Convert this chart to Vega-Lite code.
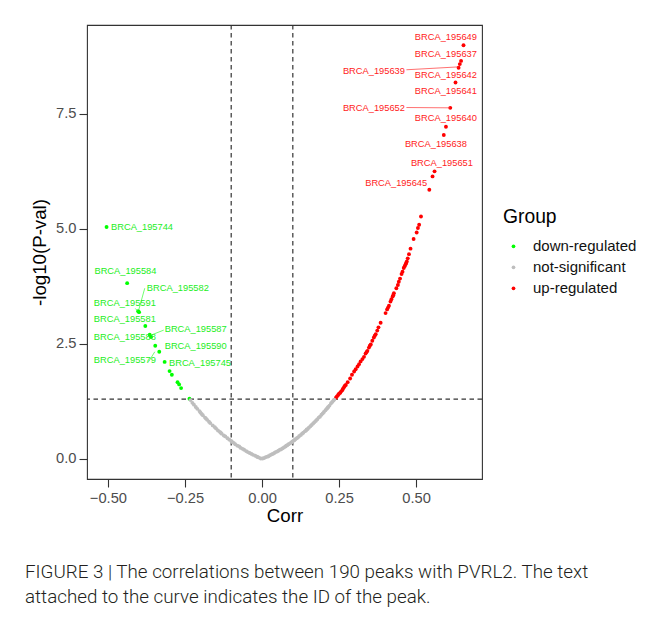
{
  "$schema": "https://vega.github.io/schema/vega-lite/v6.json",
  "width": 395,
  "height": 454,
  "autosize": {"type": "none"},
  "padding": {"left": 87, "top": 25, "right": 175, "bottom": 139},
  "background": "white",
  "title": {
    "text": ["FIGURE 3 | The correlations between 190 peaks with PVRL2. The text", "attached to the curve indicates the ID of the peak."],
    "orient": "bottom", "anchor": "start", "frame": "group",
    "font": "Roboto", "fontSize": 18.8, "fontWeight": 300, "color": "#231f20",
    "lineHeight": 24.5, "offset": 38, "dx": -62, "baseline": "top"
  },
  "datasets": {
    "vl": [{"v": -0.1}, {"v": 0.1}],
    "hl": [{"h": 1.30103}],
    "pts": [
      {"Corr": 0.654, "P": 8.99, "Group": "up-regulated"},
      {"Corr": 0.646, "P": 8.65, "Group": "up-regulated"},
      {"Corr": 0.642, "P": 8.58, "Group": "up-regulated"},
      {"Corr": 0.638, "P": 8.50, "Group": "up-regulated"},
      {"Corr": 0.628, "P": 8.18, "Group": "up-regulated"},
      {"Corr": 0.611, "P": 7.63, "Group": "up-regulated"},
      {"Corr": 0.597, "P": 7.22, "Group": "up-regulated"},
      {"Corr": 0.590, "P": 7.04, "Group": "up-regulated"},
      {"Corr": 0.560, "P": 6.25, "Group": "up-regulated"},
      {"Corr": 0.5535, "P": 6.14, "Group": "up-regulated"},
      {"Corr": 0.543, "P": 5.85, "Group": "up-regulated"},
      {"Corr": 0.516, "P": 5.27, "Group": "up-regulated"},
      {"Corr": 0.510, "P": 5.09, "Group": "up-regulated"},
      {"Corr": 0.506, "P": 5.02, "Group": "up-regulated"},
      {"Corr": 0.502, "P": 4.92, "Group": "up-regulated"},
      {"Corr": 0.492, "P": 4.78, "Group": "up-regulated"},
      {"Corr": 0.482, "P": 4.57, "Group": "up-regulated"},
      {"Corr": 0.477, "P": 4.45, "Group": "up-regulated"},
      {"Corr": 0.473, "P": 4.36, "Group": "up-regulated"},
      {"Corr": 0.470, "P": 4.29, "Group": "up-regulated"},
      {"Corr": 0.468, "P": 4.26, "Group": "up-regulated"},
      {"Corr": 0.466, "P": 4.23, "Group": "up-regulated"},
      {"Corr": 0.463, "P": 4.19, "Group": "up-regulated"},
      {"Corr": 0.460, "P": 4.15, "Group": "up-regulated"},
      {"Corr": 0.456, "P": 4.07, "Group": "up-regulated"},
      {"Corr": 0.453, "P": 4.02, "Group": "up-regulated"},
      {"Corr": 0.448, "P": 3.92, "Group": "up-regulated"},
      {"Corr": 0.444, "P": 3.85, "Group": "up-regulated"},
      {"Corr": 0.441, "P": 3.78, "Group": "up-regulated"},
      {"Corr": 0.436, "P": 3.71, "Group": "up-regulated"},
      {"Corr": 0.428, "P": 3.60, "Group": "up-regulated"},
      {"Corr": 0.426, "P": 3.56, "Group": "up-regulated"},
      {"Corr": 0.424, "P": 3.53, "Group": "up-regulated"},
      {"Corr": 0.420, "P": 3.47, "Group": "up-regulated"},
      {"Corr": 0.417, "P": 3.42, "Group": "up-regulated"},
      {"Corr": 0.412, "P": 3.33, "Group": "up-regulated"},
      {"Corr": 0.409, "P": 3.29, "Group": "up-regulated"},
      {"Corr": 0.406, "P": 3.25, "Group": "up-regulated"},
      {"Corr": 0.401, "P": 3.17, "Group": "up-regulated"},
      {"Corr": 0.385, "P": 2.96, "Group": "up-regulated"},
      {"Corr": 0.378, "P": 2.86, "Group": "up-regulated"},
      {"Corr": 0.374, "P": 2.79, "Group": "up-regulated"},
      {"Corr": 0.369, "P": 2.71, "Group": "up-regulated"},
      {"Corr": 0.366, "P": 2.68, "Group": "up-regulated"},
      {"Corr": 0.363, "P": 2.64, "Group": "up-regulated"},
      {"Corr": 0.358, "P": 2.57, "Group": "up-regulated"},
      {"Corr": 0.353, "P": 2.49, "Group": "up-regulated"},
      {"Corr": 0.350, "P": 2.46, "Group": "up-regulated"},
      {"Corr": 0.347, "P": 2.42, "Group": "up-regulated"},
      {"Corr": 0.342, "P": 2.35, "Group": "up-regulated"},
      {"Corr": 0.339, "P": 2.32, "Group": "up-regulated"},
      {"Corr": 0.336, "P": 2.29, "Group": "up-regulated"},
      {"Corr": 0.331, "P": 2.22, "Group": "up-regulated"},
      {"Corr": 0.326, "P": 2.17, "Group": "up-regulated"},
      {"Corr": 0.320, "P": 2.12, "Group": "up-regulated"},
      {"Corr": 0.315, "P": 2.06, "Group": "up-regulated"},
      {"Corr": 0.310, "P": 2.01, "Group": "up-regulated"},
      {"Corr": 0.304, "P": 1.95, "Group": "up-regulated"},
      {"Corr": 0.299, "P": 1.90, "Group": "up-regulated"},
      {"Corr": 0.292, "P": 1.83, "Group": "up-regulated"},
      {"Corr": 0.286, "P": 1.75, "Group": "up-regulated"},
      {"Corr": 0.278, "P": 1.67, "Group": "up-regulated"},
      {"Corr": 0.272, "P": 1.61, "Group": "up-regulated"},
      {"Corr": 0.269, "P": 1.59, "Group": "up-regulated"},
      {"Corr": 0.266, "P": 1.56, "Group": "up-regulated"},
      {"Corr": 0.263, "P": 1.53, "Group": "up-regulated"},
      {"Corr": 0.261, "P": 1.50, "Group": "up-regulated"},
      {"Corr": 0.257, "P": 1.47, "Group": "up-regulated"},
      {"Corr": 0.254, "P": 1.44, "Group": "up-regulated"},
      {"Corr": 0.250, "P": 1.42, "Group": "up-regulated"},
      {"Corr": 0.247, "P": 1.39, "Group": "up-regulated"},
      {"Corr": 0.243, "P": 1.36, "Group": "up-regulated"},
      {"Corr": 0.240, "P": 1.33, "Group": "up-regulated"},
      {"Corr": -0.5045, "P": 5.04, "Group": "down-regulated"},
      {"Corr": -0.4377, "P": 3.82, "Group": "down-regulated"},
      {"Corr": -0.402, "P": 3.21, "Group": "down-regulated"},
      {"Corr": -0.399, "P": 3.19, "Group": "down-regulated"},
      {"Corr": -0.3787, "P": 2.89, "Group": "down-regulated"},
      {"Corr": -0.3645, "P": 2.70, "Group": "down-regulated"},
      {"Corr": -0.3603, "P": 2.65, "Group": "down-regulated"},
      {"Corr": -0.3465, "P": 2.46, "Group": "down-regulated"},
      {"Corr": -0.3335, "P": 2.33, "Group": "down-regulated"},
      {"Corr": -0.3161, "P": 2.11, "Group": "down-regulated"},
      {"Corr": -0.300, "P": 1.91, "Group": "down-regulated"},
      {"Corr": -0.2926, "P": 1.83, "Group": "down-regulated"},
      {"Corr": -0.2742, "P": 1.67, "Group": "down-regulated"},
      {"Corr": -0.269, "P": 1.62, "Group": "down-regulated"},
      {"Corr": -0.2626, "P": 1.54, "Group": "down-regulated"},
      {"Corr": -0.2355, "P": 1.31, "Group": "down-regulated"},
      {"Corr": -0.232, "P": 1.28, "Group": "not-significant"},
      {"Corr": -0.226, "P": 1.22, "Group": "not-significant"},
      {"Corr": -0.221, "P": 1.18, "Group": "not-significant"},
      {"Corr": -0.215, "P": 1.13, "Group": "not-significant"},
      {"Corr": -0.210, "P": 1.09, "Group": "not-significant"},
      {"Corr": -0.203, "P": 1.04, "Group": "not-significant"},
      {"Corr": -0.200, "P": 1.01, "Group": "not-significant"},
      {"Corr": -0.196, "P": 0.98, "Group": "not-significant"},
      {"Corr": -0.192, "P": 0.95, "Group": "not-significant"},
      {"Corr": -0.185, "P": 0.90, "Group": "not-significant"},
      {"Corr": -0.182, "P": 0.88, "Group": "not-significant"},
      {"Corr": -0.178, "P": 0.85, "Group": "not-significant"},
      {"Corr": -0.172, "P": 0.81, "Group": "not-significant"},
      {"Corr": -0.168, "P": 0.78, "Group": "not-significant"},
      {"Corr": -0.160, "P": 0.73, "Group": "not-significant"},
      {"Corr": -0.153, "P": 0.69, "Group": "not-significant"},
      {"Corr": -0.149, "P": 0.66, "Group": "not-significant"},
      {"Corr": -0.143, "P": 0.62, "Group": "not-significant"},
      {"Corr": -0.137, "P": 0.59, "Group": "not-significant"},
      {"Corr": -0.134, "P": 0.57, "Group": "not-significant"},
      {"Corr": -0.131, "P": 0.55, "Group": "not-significant"},
      {"Corr": -0.124, "P": 0.51, "Group": "not-significant"},
      {"Corr": -0.119, "P": 0.49, "Group": "not-significant"},
      {"Corr": -0.112, "P": 0.45, "Group": "not-significant"},
      {"Corr": -0.106, "P": 0.42, "Group": "not-significant"},
      {"Corr": -0.100, "P": 0.39, "Group": "not-significant"},
      {"Corr": -0.097, "P": 0.37, "Group": "not-significant"},
      {"Corr": -0.092, "P": 0.35, "Group": "not-significant"},
      {"Corr": -0.087, "P": 0.32, "Group": "not-significant"},
      {"Corr": -0.080, "P": 0.29, "Group": "not-significant"},
      {"Corr": -0.074, "P": 0.27, "Group": "not-significant"},
      {"Corr": -0.069, "P": 0.24, "Group": "not-significant"},
      {"Corr": -0.063, "P": 0.22, "Group": "not-significant"},
      {"Corr": -0.058, "P": 0.20, "Group": "not-significant"},
      {"Corr": -0.051, "P": 0.17, "Group": "not-significant"},
      {"Corr": -0.046, "P": 0.15, "Group": "not-significant"},
      {"Corr": -0.040, "P": 0.13, "Group": "not-significant"},
      {"Corr": -0.034, "P": 0.11, "Group": "not-significant"},
      {"Corr": -0.029, "P": 0.09, "Group": "not-significant"},
      {"Corr": -0.022, "P": 0.07, "Group": "not-significant"},
      {"Corr": -0.016, "P": 0.05, "Group": "not-significant"},
      {"Corr": -0.0135, "P": 0.04, "Group": "not-significant"},
      {"Corr": -0.010, "P": 0.03, "Group": "not-significant"},
      {"Corr": -0.004, "P": 0.01, "Group": "not-significant"},
      {"Corr": 0.002, "P": 0.01, "Group": "not-significant"},
      {"Corr": 0.007, "P": 0.02, "Group": "not-significant"},
      {"Corr": 0.012, "P": 0.04, "Group": "not-significant"},
      {"Corr": 0.017, "P": 0.05, "Group": "not-significant"},
      {"Corr": 0.021, "P": 0.06, "Group": "not-significant"},
      {"Corr": 0.026, "P": 0.08, "Group": "not-significant"},
      {"Corr": 0.031, "P": 0.10, "Group": "not-significant"},
      {"Corr": 0.035, "P": 0.11, "Group": "not-significant"},
      {"Corr": 0.040, "P": 0.13, "Group": "not-significant"},
      {"Corr": 0.044, "P": 0.15, "Group": "not-significant"},
      {"Corr": 0.049, "P": 0.16, "Group": "not-significant"},
      {"Corr": 0.053, "P": 0.18, "Group": "not-significant"},
      {"Corr": 0.058, "P": 0.20, "Group": "not-significant"},
      {"Corr": 0.062, "P": 0.21, "Group": "not-significant"},
      {"Corr": 0.066, "P": 0.23, "Group": "not-significant"},
      {"Corr": 0.071, "P": 0.25, "Group": "not-significant"},
      {"Corr": 0.076, "P": 0.27, "Group": "not-significant"},
      {"Corr": 0.079, "P": 0.29, "Group": "not-significant"},
      {"Corr": 0.082, "P": 0.30, "Group": "not-significant"},
      {"Corr": 0.086, "P": 0.32, "Group": "not-significant"},
      {"Corr": 0.091, "P": 0.34, "Group": "not-significant"},
      {"Corr": 0.095, "P": 0.36, "Group": "not-significant"},
      {"Corr": 0.099, "P": 0.38, "Group": "not-significant"},
      {"Corr": 0.103, "P": 0.40, "Group": "not-significant"},
      {"Corr": 0.1055, "P": 0.41, "Group": "not-significant"},
      {"Corr": 0.108, "P": 0.43, "Group": "not-significant"},
      {"Corr": 0.113, "P": 0.45, "Group": "not-significant"},
      {"Corr": 0.117, "P": 0.47, "Group": "not-significant"},
      {"Corr": 0.121, "P": 0.50, "Group": "not-significant"},
      {"Corr": 0.126, "P": 0.52, "Group": "not-significant"},
      {"Corr": 0.130, "P": 0.55, "Group": "not-significant"},
      {"Corr": 0.134, "P": 0.57, "Group": "not-significant"},
      {"Corr": 0.139, "P": 0.60, "Group": "not-significant"},
      {"Corr": 0.143, "P": 0.62, "Group": "not-significant"},
      {"Corr": 0.145, "P": 0.64, "Group": "not-significant"},
      {"Corr": 0.148, "P": 0.65, "Group": "not-significant"},
      {"Corr": 0.152, "P": 0.68, "Group": "not-significant"},
      {"Corr": 0.157, "P": 0.71, "Group": "not-significant"},
      {"Corr": 0.161, "P": 0.74, "Group": "not-significant"},
      {"Corr": 0.166, "P": 0.77, "Group": "not-significant"},
      {"Corr": 0.170, "P": 0.80, "Group": "not-significant"},
      {"Corr": 0.175, "P": 0.83, "Group": "not-significant"},
      {"Corr": 0.179, "P": 0.86, "Group": "not-significant"},
      {"Corr": 0.184, "P": 0.90, "Group": "not-significant"},
      {"Corr": 0.188, "P": 0.92, "Group": "not-significant"},
      {"Corr": 0.193, "P": 0.96, "Group": "not-significant"},
      {"Corr": 0.197, "P": 0.99, "Group": "not-significant"},
      {"Corr": 0.201, "P": 1.02, "Group": "not-significant"},
      {"Corr": 0.206, "P": 1.06, "Group": "not-significant"},
      {"Corr": 0.210, "P": 1.09, "Group": "not-significant"},
      {"Corr": 0.2125, "P": 1.11, "Group": "not-significant"},
      {"Corr": 0.215, "P": 1.13, "Group": "not-significant"},
      {"Corr": 0.219, "P": 1.16, "Group": "not-significant"},
      {"Corr": 0.224, "P": 1.21, "Group": "not-significant"},
      {"Corr": 0.228, "P": 1.24, "Group": "not-significant"},
      {"Corr": 0.232, "P": 1.27, "Group": "not-significant"},
      {"Corr": 0.2345, "P": 1.29, "Group": "not-significant"}
    ],
    "labs": [
      {"id": "BRCA_195649", "lx": 0.5968, "ly": 9.167, "Group": "up-regulated"},
      {"id": "BRCA_195637", "lx": 0.5968, "ly": 8.80, "Group": "up-regulated"},
      {"id": "BRCA_195639", "lx": 0.3632, "ly": 8.441, "Group": "up-regulated"},
      {"id": "BRCA_195642", "lx": 0.5968, "ly": 8.348, "Group": "up-regulated"},
      {"id": "BRCA_195641", "lx": 0.5968, "ly": 8.0, "Group": "up-regulated"},
      {"id": "BRCA_195652", "lx": 0.3632, "ly": 7.637, "Group": "up-regulated"},
      {"id": "BRCA_195640", "lx": 0.5968, "ly": 7.407, "Group": "up-regulated"},
      {"id": "BRCA_195638", "lx": 0.5645, "ly": 6.854, "Group": "up-regulated"},
      {"id": "BRCA_195651", "lx": 0.5839, "ly": 6.441, "Group": "up-regulated"},
      {"id": "BRCA_195645", "lx": 0.4355, "ly": 6.007, "Group": "up-regulated"},
      {"id": "BRCA_195744", "lx": -0.3894, "ly": 5.037, "Group": "down-regulated"},
      {"id": "BRCA_195584", "lx": -0.4432, "ly": 4.087, "Group": "down-regulated"},
      {"id": "BRCA_195582", "lx": -0.2732, "ly": 3.724, "Group": "down-regulated"},
      {"id": "BRCA_195591", "lx": -0.4452, "ly": 3.398, "Group": "down-regulated"},
      {"id": "BRCA_195581", "lx": -0.4452, "ly": 3.037, "Group": "down-regulated"},
      {"id": "BRCA_195587", "lx": -0.2152, "ly": 2.826, "Group": "down-regulated"},
      {"id": "BRCA_195588", "lx": -0.4452, "ly": 2.646, "Group": "down-regulated"},
      {"id": "BRCA_195590", "lx": -0.2152, "ly": 2.457, "Group": "down-regulated"},
      {"id": "BRCA_195579", "lx": -0.4452, "ly": 2.152, "Group": "down-regulated"},
      {"id": "BRCA_195745", "lx": -0.2013, "ly": 2.080, "Group": "down-regulated"}
    ],
    "links": [
      {"x": 0.4687, "y": 8.457, "x2": 0.638, "y2": 8.52, "Group": "up-regulated"},
      {"x": 0.4687, "y": 7.637, "x2": 0.611, "y2": 7.63, "Group": "up-regulated"},
      {"x": -0.3806, "y": 3.71, "x2": -0.400, "y2": 3.24, "Group": "down-regulated"},
      {"x": -0.411, "y": 3.27, "x2": -0.402, "y2": 3.20, "Group": "down-regulated"},
      {"x": -0.319, "y": 2.80, "x2": -0.357, "y2": 2.70, "Group": "down-regulated"},
      {"x": -0.368, "y": 2.115, "x2": -0.348, "y2": 2.33, "Group": "down-regulated"}
    ]
  },
  "layer": [
    {
      "data": {"name": "vl"},
      "mark": {"type": "rule", "color": "#333333", "strokeWidth": 1.2, "strokeDash": [4.5, 3.5]},
      "encoding": {"x": {"field": "v", "type": "quantitative"}}
    },
    {
      "data": {"name": "hl"},
      "mark": {"type": "rule", "color": "#333333", "strokeWidth": 1.2, "strokeDash": [4.5, 3.5]},
      "encoding": {"y": {"field": "h", "type": "quantitative"}}
    },
    {
      "data": {"name": "pts"},
      "mark": {"type": "circle", "size": 15, "opacity": 1},
      "encoding": {
        "x": {"field": "Corr", "type": "quantitative",
              "scale": {"domain": [-0.568, 0.714], "nice": false, "zero": false},
              "axis": {"title": "Corr", "values": [-0.5, -0.25, 0, 0.25, 0.5], "format": ".2f", "labelPadding": 3, "titlePadding": 2}},
        "y": {"field": "P", "type": "quantitative",
              "scale": {"domain": [-0.435, 9.43], "nice": false, "zero": false},
              "axis": {"title": "-log10(P-val)", "values": [0, 2.5, 5, 7.5], "format": ".1f", "labelPadding": 3, "titlePadding": 6}},
        "color": {"field": "Group", "type": "nominal",
                  "scale": {"domain": ["down-regulated", "not-significant", "up-regulated"], "range": ["#00ff00", "#bebebe", "#ff0000"]},
                  "legend": {"orient": "none", "legendX": 416, "legendY": 183, "title": "Group",
                             "titleFont": "Liberation Sans", "titleFontSize": 19.3, "titleFontWeight": "normal", "titleColor": "#000000", "titlePadding": 11.5,
                             "labelFont": "Liberation Sans", "labelFontSize": 15, "labelColor": "#111111",
                             "symbolType": "circle", "symbolSize": 14, "symbolStrokeWidth": 0, "symbolOffset": 3, "labelOffset": 12, "rowPadding": 5}}
      }
    },
    {
      "data": {"name": "links"},
      "mark": {"type": "rule", "strokeWidth": 0.7},
      "encoding": {
        "x": {"field": "x", "type": "quantitative"},
        "y": {"field": "y", "type": "quantitative"},
        "x2": {"field": "x2"},
        "y2": {"field": "y2"},
        "stroke": {"field": "Group", "type": "nominal", "scale": {"domain": ["down-regulated", "up-regulated"], "range": ["#33ff33", "#ff3333"]}, "legend": null}
      }
    },
    {
      "data": {"name": "labs"},
      "mark": {"type": "text", "font": "Liberation Sans", "fontSize": 9.3, "align": "center", "baseline": "middle"},
      "encoding": {
        "x": {"field": "lx", "type": "quantitative"},
        "y": {"field": "ly", "type": "quantitative"},
        "text": {"field": "id"},
        "fill": {"field": "Group", "type": "nominal", "scale": {"domain": ["down-regulated", "up-regulated"], "range": ["#22ee22", "#ff2222"]}, "legend": null}
      }
    }
  ],
  "config": {
    "view": {"stroke": "#333333", "strokeWidth": 1.1},
    "axis": {"grid": false, "domain": false, "tickColor": "#333333", "tickSize": 8, "tickWidth": 1.1,
             "labelFont": "Liberation Sans", "labelFontSize": 14.7, "labelColor": "#4d4d4d",
             "titleFont": "Liberation Sans", "titleFontSize": 18.7, "titleFontWeight": "normal", "titleColor": "#000000"}
  }
}
